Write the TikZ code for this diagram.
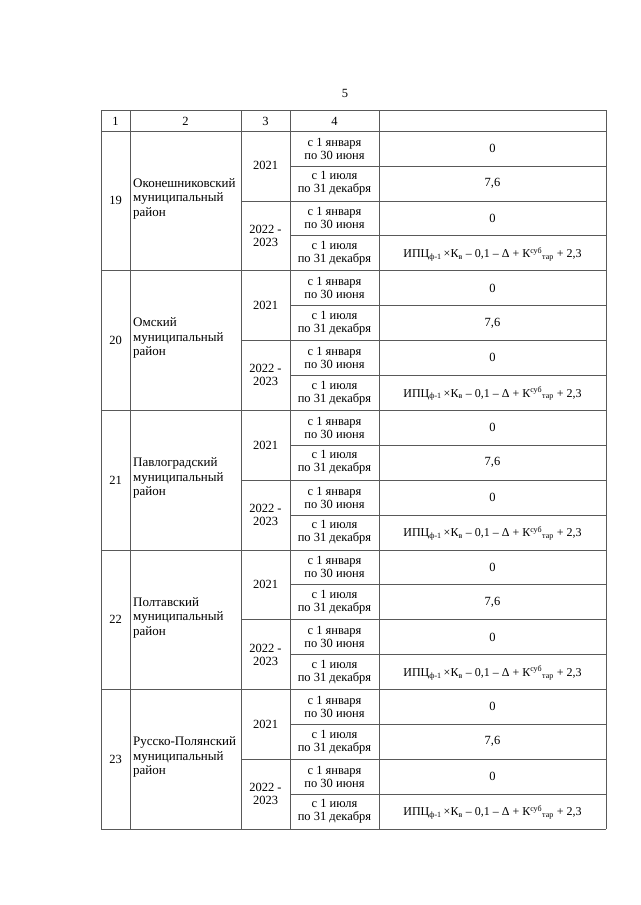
\documentclass[tikz,border=0pt]{standalone}
\usepackage{fontspec}
\setmainfont{Liberation Serif}

\tikzset{
  cell/.style={align=center, inner sep=1pt, font=\fontsize{12.5}{13}\selectfont},
  namecell/.style={align=left, anchor=west, inner sep=1pt, font=\fontsize{13}{14.5}\selectfont},
  rule/.style={draw=black!65, line width=0.6pt}
}
\newcommand{\ipcformula}{\fontsize{12}{13}\selectfont ИПЦ\textsubscript{ф-1}\,×К\textsubscript{в} – 0,1 – Δ + К\textsuperscript{суб}\textsubscript{тар} + 2,3}

\begin{document}
\begin{tikzpicture}[x=1pt,y=-1pt]
  \useasboundingbox (0,0) rectangle (640,905);

  \node[cell] (page) at (345,93) {5};

  % header
  \begin{scope}[every node/.style={cell}]
    \node (h1) at (115.5,121) {1};
    \node (h2) at (185.5,121) {2};
    \node (h3) at (265.5,121) {3};
    \node (h4) at (334.5,121) {4};
  \end{scope}

  \draw[rule] (101,110) -- (606,110);
  \draw[rule] (101,131) -- (606,131);
  \foreach \x in {101,130,241,290,379,606}
    \draw[rule] (\x,110) -- (\x,829);

  % districts
  \foreach \num/\distname [count=\i from 0] in {19/Оконешниковский, 20/Омский, 21/Павлоградский, 22/Полтавский, 23/Русско-Полянский}{
    \pgfmathsetmacro\bt{131+\i*139.6}
    \pgfmathsetmacro\rh{34.9}

    \node[cell] (num\num) at (115.5,\bt+2*\rh) {\num};
    \node[namecell] (dist\num) at (132,\bt+2*\rh-2) {\distname\\муниципальный\\район};

    \node[cell] (yra\num) at (265.5,\bt+\rh) {2021};
    \node[cell] (yrb\num) at (265.5,\bt+3*\rh) {2022 -\\2023};

    \node[cell] (pa\num) at (334.5,\bt+0.5*\rh) {с 1 января\\по 30 июня};
    \node[cell] (pb\num) at (334.5,\bt+1.5*\rh) {с 1 июля\\по 31 декабря};
    \node[cell] (pc\num) at (334.5,\bt+2.5*\rh) {с 1 января\\по 30 июня};
    \node[cell] (pd\num) at (334.5,\bt+3.5*\rh) {с 1 июля\\по 31 декабря};

    \node[cell] (va\num) at (492.5,\bt+0.5*\rh) {0};
    \node[cell] (vb\num) at (492.5,\bt+1.5*\rh) {7,6};
    \node[cell] (vc\num) at (492.5,\bt+2.5*\rh) {0};
    \node[cell] (vd\num) at (492.5,\bt+3.5*\rh+1) {\ipcformula};

    \draw[rule] (290,\bt+\rh) -- (606,\bt+\rh);
    \draw[rule] (241,\bt+2*\rh) -- (606,\bt+2*\rh);
    \draw[rule] (290,\bt+3*\rh) -- (606,\bt+3*\rh);
    \draw[rule] (101,\bt+4*\rh) -- (606,\bt+4*\rh);
  }
\end{tikzpicture}
\end{document}
